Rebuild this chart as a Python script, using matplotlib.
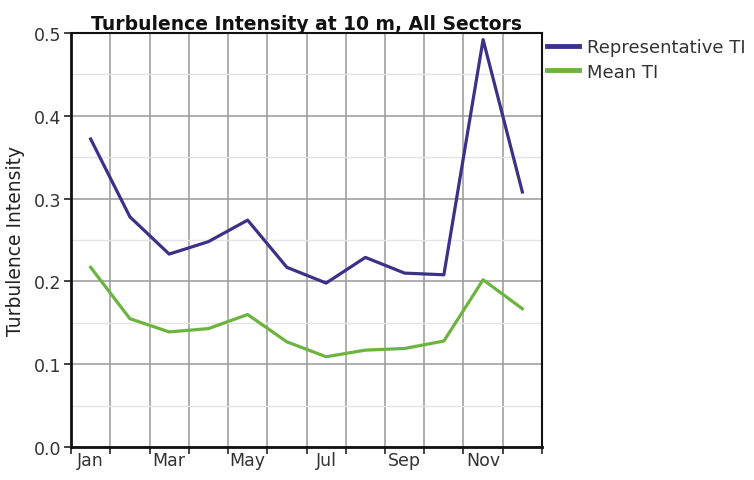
import matplotlib.pyplot as plt

months = ['Jan', 'Feb', 'Mar', 'Apr', 'May', 'Jun', 'Jul', 'Aug', 'Sep', 'Oct', 'Nov', 'Dec']
rep_ti = [0.372, 0.278, 0.233, 0.248, 0.274, 0.217, 0.198, 0.229, 0.210, 0.208, 0.492, 0.308]
mean_ti = [0.217, 0.155, 0.139, 0.143, 0.160, 0.127, 0.109, 0.117, 0.119, 0.128, 0.202, 0.167]
y_ticks = [0.0, 0.1, 0.2, 0.3, 0.4, 0.5]

plt.rcParams['font.family'] = ['DejaVu Sans']

fig = plt.figure(figsize=(7.54, 4.81), dpi=100)
ax = fig.add_axes([0.0942, 0.0686, 0.6246, 0.8607])

x = [i + 0.5 for i in range(len(months))]
ax.plot(x, rep_ti, color='#3b3288', lw=2.3, label='Representative TI')
ax.plot(x, mean_ti, color='#6cb33f', lw=2.3, label='Mean TI')

ax.set_xlim(0, 12)
ax.set_ylim(0, 0.5)

# major ticks at month boundaries, labels every other month
ax.set_xticks(range(13))
ax.set_xticklabels([''] * 13)
ax.set_xticks([i + 0.5 for i in range(0, 12, 2)], minor=True)
ax.set_xticklabels(months[::2], minor=True)
ax.tick_params(axis='x', which='minor', length=0, pad=3)
ax.tick_params(axis='x', which='major', length=5, width=1.2, color='#222222')

ax.set_yticks(y_ticks)
ax.set_yticklabels(['%.1f' % v for v in y_ticks])
ax.set_yticks([0.05, 0.15, 0.25, 0.35, 0.45], minor=True)
ax.tick_params(axis='y', which='major', length=5, width=1.2, color='#222222', pad=2)
ax.tick_params(axis='y', which='minor', length=0)
ax.tick_params(which='both', labelsize=12.5, labelcolor='#333333')

ax.grid(True, which='major', color='#999999', lw=1.1)
ax.grid(True, which='minor', axis='y', color='#e4e4e4', lw=1)
ax.set_axisbelow(True)

for side in ['left', 'bottom']:
    ax.spines[side].set_linewidth(2)
    ax.spines[side].set_color('#111111')
for side in ['top', 'right']:
    ax.spines[side].set_linewidth(1.5)
    ax.spines[side].set_color('#111111')

ax.set_title('Turbulence Intensity at 10 m, All Sectors', fontsize=13.5,
             fontweight='bold', color='#111111', pad=3)
ax.set_ylabel('Turbulence Intensity', fontsize=13.5, color='#222222', labelpad=6)

leg = ax.legend(loc='upper left', bbox_to_anchor=(1.0, 1.0), frameon=False,
                fontsize=13, handlelength=1.75, handletextpad=0.45, labelspacing=0.35,
                borderaxespad=0.1, borderpad=0.2, labelcolor='#333333')
for line in leg.get_lines():
    line.set_linewidth(3.5)

fig.savefig('out.png', dpi=100)
